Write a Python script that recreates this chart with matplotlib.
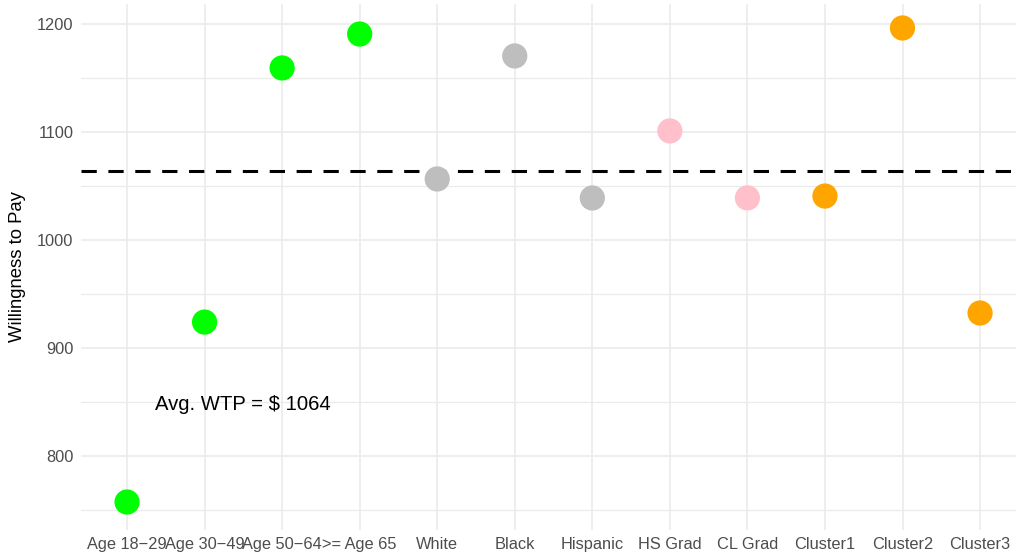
import matplotlib
matplotlib.use('Agg')
import matplotlib.pyplot as plt

# group labels, WTP values and point colours
groups = ['Age 18\u221229', 'Age 30\u221249', 'Age 50\u221264', '>= Age 65', 'White', 'Black',
          'Hispanic', 'HS Grad', 'CL Grad', 'Cluster1', 'Cluster2', 'Cluster3']
wtp = [757.4, 924.0, 1159.3, 1190.7, 1056.5, 1170.4, 1038.9, 1101.0, 1039.0, 1040.7, 1196.3, 932.4]
colors = ['#00FF00'] * 4 + ['#BEBEBE'] * 3 + ['#FFC0CB'] * 2 + ['#FFA500'] * 3
avg_wtp = 1064

plt.rcParams['font.family'] = ['Liberation Sans', 'DejaVu Sans']

fig = plt.figure(figsize=(10.16, 5.54), dpi=100)
W, H = 1016, 554
ax = fig.add_axes([80.5 / W, 1 - 530 / H, (1016 - 80.5) / W, (530 - 4) / H])

x = list(range(len(groups)))
ax.scatter(x, wtp, c=colors, s=330, zorder=3, linewidths=0)
ax.axhline(avg_wtp, color='black', lw=2.2, ls=(0, (5, 3.8)), zorder=2)
ax.text(1.5, 848, f'Avg. WTP = $ {avg_wtp}', ha='center', va='center', fontsize=14.6, color='black')

ax.set_xlim(-0.6, (1016 - 127) / 77.55)
ax.set_ylim(731.5, 1218.5)
ax.set_xticks(x)
ax.set_xticklabels(groups)
ax.set_yticks([800, 900, 1000, 1100, 1200])
ax.set_yticks([750, 850, 950, 1050, 1150], minor=True)

ax.grid(True, which='major', color='#EBEBEB', lw=1.2)
ax.grid(True, which='minor', axis='y', color='#EBEBEB', lw=0.9)
ax.set_axisbelow(True)
for s in ax.spines.values():
    s.set_visible(False)
ax.tick_params(which='both', length=0, labelsize=11.8, labelcolor='#4D4D4D', pad=5)
ax.set_ylabel('Willingness to Pay', fontsize=13.3, labelpad=8)

fig.savefig('out.png', dpi=100)
